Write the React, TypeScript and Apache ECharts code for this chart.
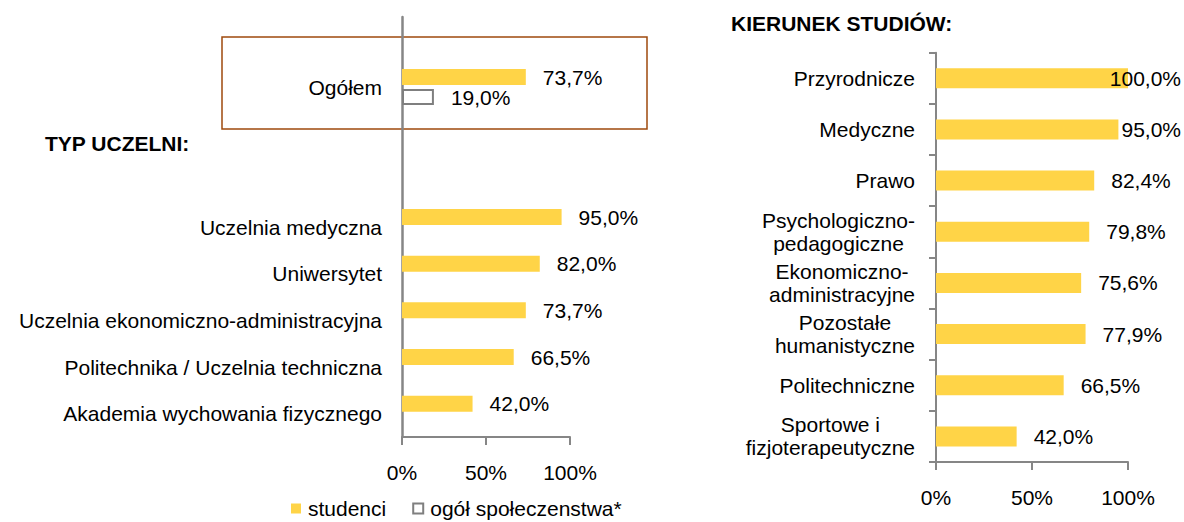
import React, { useEffect, useRef } from "react";
import * as echarts from "echarts";

const leftCategories = [" ", "Ogółem", "  ", "   ", "Uczelnia medyczna", "Uniwersytet", "Uczelnia ekonomiczno-administracyjna", "Politechnika / Uczelnia techniczna", "Akademia wychowania fizycznego"];
const leftStudenci = [null, 73.7, null, null, 95.0, 82.0, 73.7, 66.5, 42.0];
const leftOgol = [null, 19.0, null, null, null, null, null, null, null];

const rightCategories = ["Przyrodnicze", "Medyczne", "Prawo", "Psychologiczno-\npedagogiczne", "Ekonomiczno-\nadministracyjne", "Pozostałe\nhumanistyczne", "Politechniczne", "Sportowe i\nfizjoterapeutyczne"];
const rightStudenci = [100.0, 95.0, 82.4, 79.8, 75.6, 77.9, 66.5, 42.0];

const xTicks = { min: 0, max: 100, interval: 50 };

const FONT = "'Liberation Sans', Arial, sans-serif";
const YELLOW = "#FFD447";
const GRAY = "#868686";

const pct = (v: any) => (v == null ? "" : Number(v).toFixed(1).replace(".", ",") + "%");

export default function App() {
  const ref = useRef<HTMLDivElement>(null);
  useEffect(() => {
    if (!ref.current) return;
    const chart = echarts.init(ref.current, null, { renderer: "svg" });
    const W = 1184;
    const axisLine = { show: true, lineStyle: { color: GRAY, width: 2 } };
    const valueAxisCommon = {
      type: "value",
      min: xTicks.min,
      max: xTicks.max,
      interval: xTicks.interval,
      splitLine: { show: false },
      axisLine,
      axisTick: { show: true, length: 8, lineStyle: { color: GRAY, width: 2 } },
      axisLabel: { formatter: "{value}%", color: "#000", fontSize: 21, fontFamily: FONT, margin: 25 },
    };
    const dataLabel = {
      show: true,
      position: "right",
      distance: 17,
      color: "#000",
      fontSize: 21,
      fontFamily: FONT,
      formatter: (p: any) => pct(p.value),
    };
    chart.setOption({
      animation: false,
      textStyle: { fontFamily: FONT },
      title: [
        { text: "TYP UCZELNI:", left: 45, top: 133, padding: 0, textStyle: { fontSize: 21, fontWeight: "bold", color: "#000", fontFamily: FONT } },
        { text: "KIERUNEK STUDIÓW:", left: 731, top: 13, padding: 0, textStyle: { fontSize: 21, fontWeight: "bold", color: "#000", fontFamily: FONT } },
      ],
      legend: {
        data: ["studenci", "ogół społeczenstwa*"],
        left: 291,
        top: 498,
        icon: "rect",
        itemWidth: 10,
        itemHeight: 10,
        itemGap: 26,
        padding: 0,
        textStyle: { fontSize: 21, lineHeight: 21, color: "#000", fontFamily: FONT, padding: [0, 0, 0, 2] },
      },
      grid: [
        { left: 402, top: 17, width: 168, height: 420 },
        { left: 936, top: 52.7, width: 192, height: 409.3 },
      ],
      xAxis: [
        { ...valueAxisCommon, gridIndex: 0 },
        { ...valueAxisCommon, gridIndex: 1 },
      ],
      yAxis: [
        {
          type: "category",
          gridIndex: 0,
          inverse: true,
          data: leftCategories,
          axisLine: { show: true, lineStyle: { color: GRAY, width: 2.5 } },
          axisTick: { show: false },
          axisLabel: { color: "#000", fontSize: 21, fontFamily: FONT, margin: 20, interval: 0 },
        },
        {
          type: "category",
          gridIndex: 1,
          inverse: true,
          data: rightCategories,
          axisLine,
          axisTick: { show: true, length: 7, inside: false, lineStyle: { color: GRAY, width: 2 } },
          axisLabel: {
            color: "#000",
            fontSize: 21,
            fontFamily: FONT,
            margin: 21,
            interval: 0,
            formatter: (v: string) => v.split("\n").map((s) => "{c|" + s + "}").join("\n"),
            rich: { c: { align: "center", fontSize: 21, lineHeight: 23, fontFamily: FONT, color: "#000" } },
          },
        },
      ],
      series: [
        {
          name: "studenci",
          type: "bar",
          xAxisIndex: 0,
          yAxisIndex: 0,
          data: leftStudenci,
          barWidth: 16,
          barGap: "25%",
          itemStyle: { color: YELLOW },
          label: dataLabel,
        },
        {
          name: "ogół społeczenstwa*",
          type: "bar",
          xAxisIndex: 0,
          yAxisIndex: 0,
          data: leftOgol,
          barWidth: 16,
          barGap: "25%",
          itemStyle: { color: "#fff", borderColor: "#7f7f7f", borderWidth: 2 },
          label: dataLabel,
        },
        {
          name: "studenci",
          type: "bar",
          xAxisIndex: 1,
          yAxisIndex: 1,
          data: rightStudenci,
          barWidth: 20,
          itemStyle: { color: YELLOW },
          label: dataLabel,
          labelLayout: (params: any) => {
            const r = params.labelRect;
            const limit = W - 3;
            if (r.x + r.width > limit) {
              return { x: limit - r.width, y: r.y + r.height / 2, align: "left", verticalAlign: "middle" };
            }
            return {};
          },
        },
      ],
      graphic: [
        {
          type: "rect",
          shape: { x: 222, y: 37, width: 425, height: 92 },
          style: { fill: "none", stroke: "#9E4A0C", lineWidth: 1.5 },
          silent: true,
        },
      ],
    });
    return () => chart.dispose();
  }, []);
  return <div ref={ref} style={{ position: "fixed", left: 0, top: 0, width: 1184, height: 522, background: "#fff" }} />;
}
